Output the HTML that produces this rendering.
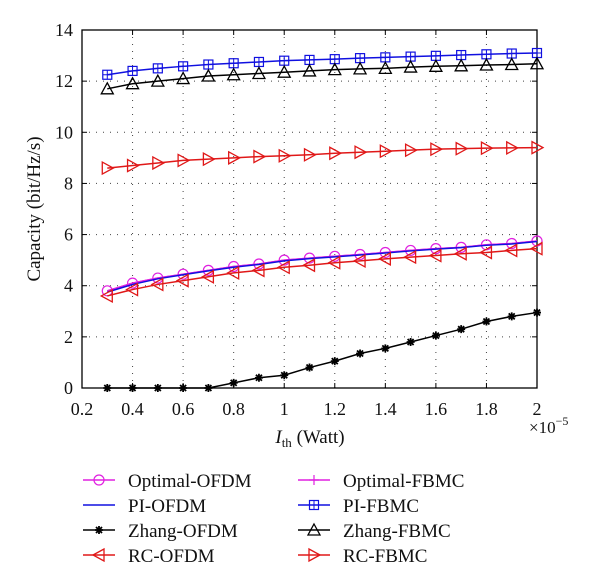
<!DOCTYPE html>
<html><head><meta charset="utf-8"><style>
body{margin:0;background:#fff;width:600px;height:585px;overflow:hidden}
svg{display:block;font-family:"Liberation Serif",serif}
</style></head><body>
<svg id="chart" width="600" height="585" xmlns="http://www.w3.org/2000/svg"></svg>
<script>
const xValues=[0.3,0.4,0.5,0.6,0.7,0.8,0.9,1.0,1.1,1.2,1.3,1.4,1.5,1.6,1.7,1.8,1.9,2.0];
const xTicks=[0.2,0.4,0.6,0.8,1,1.2,1.4,1.6,1.8,2];
const yTicks=[0,2,4,6,8,10,12,14];
const optimalOFDM=[3.8,4.1,4.3,4.45,4.6,4.75,4.85,5.0,5.08,5.15,5.22,5.3,5.38,5.45,5.5,5.6,5.65,5.75];
const optimalFBMC=[3.8,4.1,4.3,4.45,4.6,4.75,4.85,5.0,5.08,5.15,5.22,5.3,5.38,5.45,5.5,5.6,5.65,5.75];
const piOFDM=[3.75,4.05,4.27,4.43,4.58,4.72,4.83,4.97,5.06,5.13,5.2,5.28,5.36,5.43,5.49,5.58,5.63,5.73];
const zhangOFDM=[0,0,0,0,0,0.2,0.4,0.5,0.8,1.05,1.35,1.55,1.8,2.05,2.3,2.6,2.8,2.95];
const rcOFDM=[3.6,3.85,4.05,4.2,4.35,4.5,4.6,4.72,4.8,4.9,4.97,5.05,5.12,5.18,5.25,5.3,5.38,5.45];
const piFBMC=[12.25,12.4,12.5,12.58,12.65,12.7,12.75,12.8,12.83,12.86,12.9,12.93,12.96,12.99,13.02,13.05,13.08,13.1];
const zhangFBMC=[11.7,11.9,12.0,12.1,12.2,12.25,12.3,12.35,12.4,12.45,12.48,12.5,12.55,12.58,12.6,12.63,12.65,12.68];
const rcFBMC=[8.6,8.7,8.8,8.9,8.95,9.0,9.05,9.08,9.12,9.18,9.22,9.26,9.3,9.34,9.36,9.38,9.39,9.4];

const L=82,R=537,T=30,B=388;
const sx=v=>L+(v-0.2)/(2-0.2)*(R-L);
const sy=v=>B-v/14*(B-T);
const svg=document.getElementById('chart');
const NS='http://www.w3.org/2000/svg';
function mk(tag,attrs,parent){const e=document.createElementNS(NS,tag);for(const k in attrs)e.setAttribute(k,attrs[k]);(parent||svg).appendChild(e);return e;}

const grid=mk('g',{});


xTicks.forEach(t=>{if(t>0.2&&t<2)mk('line',{x1:sx(t),x2:sx(t),y1:T,y2:B,stroke:'#444','stroke-width':1,'stroke-dasharray':'1,6'},grid);});
yTicks.forEach(t=>{if(t>0&&t<14)mk('line',{x1:L,x2:R,y1:sy(t),y2:sy(t),stroke:'#444','stroke-width':1,'stroke-dasharray':'1,6'},grid);});

xTicks.forEach(t=>{
  mk('line',{x1:sx(t),x2:sx(t),y1:B,y2:B-5,stroke:'#000'});
  mk('line',{x1:sx(t),x2:sx(t),y1:T,y2:T+5,stroke:'#000'});
  const tx=mk('text',{x:sx(t),y:B+27,'text-anchor':'middle','font-size':18,fill:'#111'});
  tx.textContent=String(t);
  
  
});
yTicks.forEach(t=>{
  mk('line',{x1:L,x2:L+5,y1:sy(t),y2:sy(t),stroke:'#000'});
  mk('line',{x1:R,x2:R-5,y1:sy(t),y2:sy(t),stroke:'#000'});
  const tx=mk('text',{x:L-9,y:sy(t)+6,'text-anchor':'end','font-size':18,fill:'#111'});
  tx.textContent=t;
  
  
});
const box=mk('rect',{x:L,y:T,width:R-L,height:B-T,fill:'none',stroke:'#000','stroke-width':1.3});



function marker(g,type,x,y,color){
  const s=5;
  if(type==='circle')mk('circle',{cx:x,cy:y,r:5,fill:'none',stroke:color,'stroke-width':1.2},g);
  else if(type==='square'){mk('rect',{x:x-4.5,y:y-4.5,width:9,height:9,fill:'none',stroke:color,'stroke-width':1.2},g);mk('path',{d:`M${x-4.5} ${y}H${x+4.5}M${x} ${y-4.5}V${y+4.5}`,stroke:color,'stroke-width':1},g);}
  else if(type==='tri')mk('path',{d:`M${x} ${y-6}L${x+6} ${y+5}L${x-6} ${y+5}Z`,fill:'none',stroke:color,'stroke-width':1.3},g);
  else if(type==='left')mk('path',{d:`M${x-6} ${y}L${x+5} ${y-6}L${x+5} ${y+6}Z`,fill:'none',stroke:color,'stroke-width':1.3},g);
  else if(type==='right')mk('path',{d:`M${x+6} ${y}L${x-5} ${y-6}L${x-5} ${y+6}Z`,fill:'none',stroke:color,'stroke-width':1.3},g);
  else if(type==='plus')mk('path',{d:`M${x-s} ${y}H${x+s}M${x} ${y-s}V${y+s}`,stroke:color,'stroke-width':1.2},g);
  else if(type==='star')mk('path',{d:`M${x-4} ${y}H${x+4}M${x} ${y-4}V${y+4}M${x-3} ${y-3}L${x+3} ${y+3}M${x-3} ${y+3}L${x+3} ${y-3}`,stroke:color,'stroke-width':1.8},g);
}
function series(name,vals,color,type){
  const g=mk('g',{});
  
  
  mk('polyline',{points:vals.map((v,i)=>sx(xValues[i])+','+sy(v)).join(' '),fill:'none',stroke:color,'stroke-width':1.5},g);
  if(type)vals.forEach((v,i)=>marker(g,type,sx(xValues[i]),sy(v),color));
}
series('optimal-fbmc-series',optimalFBMC,'#e020e0',null);
series('optimal-ofdm-series',optimalOFDM,'#e020e0','circle');
series('pi-ofdm-series',piOFDM,'#1010e0',null);
series('zhang-ofdm-series',zhangOFDM,'#000','star');
series('rc-ofdm-series',rcOFDM,'#e01818','left');
series('pi-fbmc-series',piFBMC,'#1010e0','square');
series('zhang-fbmc-series',zhangFBMC,'#000','tri');
series('rc-fbmc-series',rcFBMC,'#e01818','right');

const yt=mk('text',{x:0,y:0,'font-size':19,fill:'#111','text-anchor':'middle',transform:`translate(40,${(T+B)/2}) rotate(-90)`});
yt.textContent='Capacity (bit/Hz/s)';


const xt=mk('text',{x:310,y:443,'font-size':19,fill:'#111','text-anchor':'middle'});
xt.innerHTML='<tspan font-style="italic">I</tspan><tspan font-size="13" dy="4">th</tspan><tspan dy="-4"> (Watt)</tspan>';


const ex=mk('text',{x:529,y:433,'font-size':17,fill:'#111'});
ex.innerHTML='×10<tspan font-size="12" dy="-8">−5</tspan>';



const legendItems=[
 ['Optimal-OFDM','#e020e0','circle',0,0],['PI-OFDM','#1010e0',null,0,1],['Zhang-OFDM','#000','star',0,2],['RC-OFDM','#e01818','left',0,3],
 ['Optimal-FBMC','#e020e0','plus',1,0],['PI-FBMC','#1010e0','square',1,1],['Zhang-FBMC','#000','tri',1,2],['RC-FBMC','#e01818','right',1,3]];
const lg=mk('g',{});


legendItems.forEach(it=>{
  const x0=it[3]?298:83, y=480+it[4]*25;
  const g=mk('g',{},lg);
  
  
  mk('line',{x1:x0,x2:x0+32,y1:y,y2:y,stroke:it[1],'stroke-width':1.6},g);
  if(it[2])marker(g,it[2],x0+16,y,it[1]);
  const t=mk('text',{x:x0+45,y:y+7,'font-size':19,fill:'#111'},g);
  t.textContent=it[0];
});
</script>
</body></html>
